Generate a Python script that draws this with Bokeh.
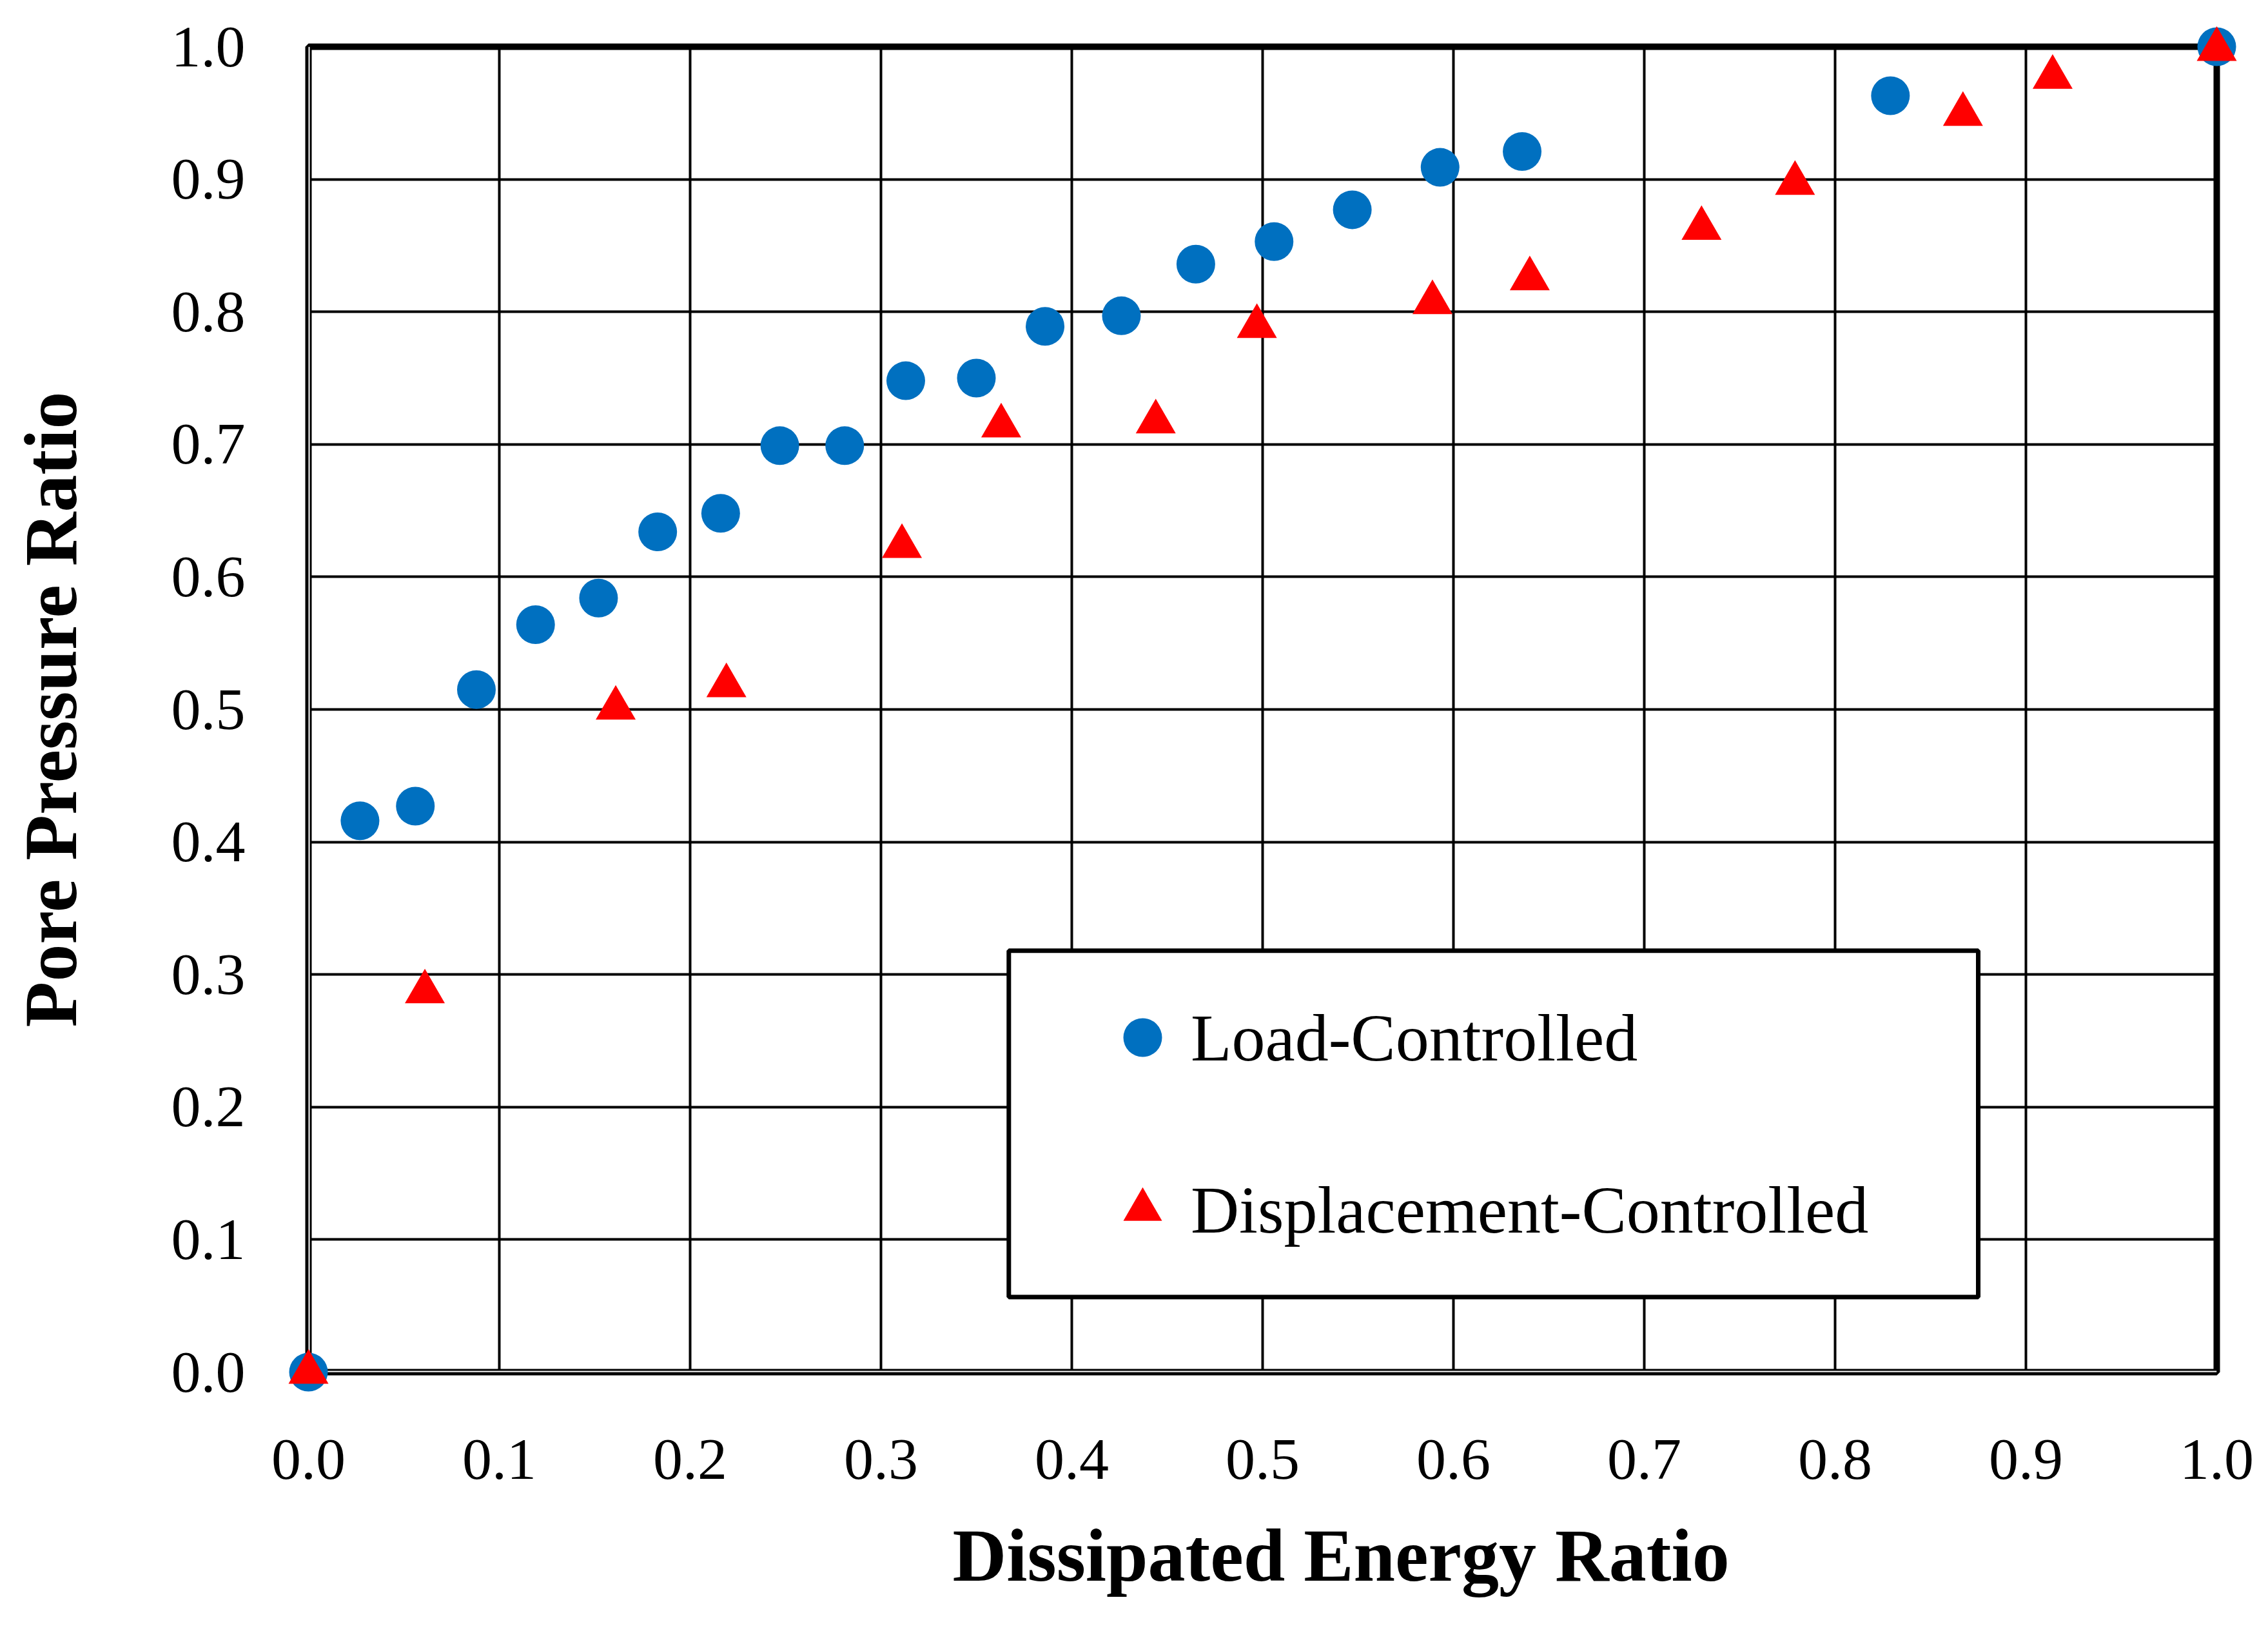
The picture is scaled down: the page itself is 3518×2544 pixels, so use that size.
from bokeh.plotting import figure
from bokeh.models import (Range1d, FixedTicker, Legend, LegendItem, BoxAnnotation,
                          Span, PrintfTickFormatter, Title)
from bokeh.embed import file_html
from bokeh.resources import INLINE

# ---- data ----
load_x = [0.0, 0.027, 0.056, 0.088, 0.119, 0.152, 0.183, 0.216, 0.247, 0.281, 0.313,
          0.350, 0.386, 0.426, 0.465, 0.506, 0.547, 0.593, 0.636, 0.829, 1.0]
load_y = [0.0, 0.416, 0.427, 0.515, 0.564, 0.584, 0.634, 0.648, 0.699, 0.699, 0.748,
          0.750, 0.789, 0.797, 0.836, 0.853, 0.877, 0.909, 0.921, 0.963, 1.0]

disp_x = [0.0, 0.061, 0.161, 0.219, 0.311, 0.363, 0.444, 0.497, 0.589, 0.640, 0.730,
          0.779, 0.867, 0.914, 1.0]
disp_y = [0.0, 0.287, 0.501, 0.518, 0.623, 0.714, 0.717, 0.789, 0.807, 0.825, 0.863,
          0.897, 0.949, 0.977, 0.998]

tick_values = [0.0, 0.1, 0.2, 0.3, 0.4, 0.5, 0.6, 0.7, 0.8, 0.9, 1.0]
tick_labels = ["0.0", "0.1", "0.2", "0.3", "0.4", "0.5", "0.6", "0.7", "0.8", "0.9", "1.0"]

series_names = ["Load-Controlled", "Displacement-Controlled"]
x_title = "Dissipated Energy Ratio"
y_title = "Pore Pressure Ratio"

BLUE = "#0070C0"
RED = "#FF0000"
FONT = "Liberation Serif"

p = figure(frame_width=2960, frame_height=2056,
           min_border_left=478, min_border_right=80,
           min_border_top=72, min_border_bottom=416,
           x_range=Range1d(0, 1), y_range=Range1d(0, 1),
           output_backend="svg", toolbar_location=None,
           background_fill_color="white", border_fill_color="white")

p.outline_line_color = "black"
p.outline_line_width = 10
p.outline_line_alpha = 1.0

overrides = {v: s for v, s in zip(tick_values, tick_labels)}
for ax in (p.xaxis[0], p.yaxis[0]):
    ax.ticker = FixedTicker(ticks=tick_values)
    ax.formatter = PrintfTickFormatter(format="%.1f")
    ax.major_label_overrides = overrides
    ax.major_tick_line_color = None
    ax.minor_tick_line_color = None
    ax.major_tick_out = 0
    ax.major_tick_in = 0
    ax.minor_tick_out = 0
    ax.minor_tick_in = 0
    ax.axis_line_color = None
    ax.major_label_text_font = FONT
    ax.major_label_text_font_size = "92px"
    ax.major_label_text_color = "black"

p.xaxis.major_label_standoff = 105
p.yaxis.major_label_standoff = 98

# y title as the axis label
p.yaxis.axis_label = y_title
p.yaxis.axis_label_text_font = FONT
p.yaxis.axis_label_text_font_size = "116px"
p.yaxis.axis_label_text_font_style = "bold"
p.yaxis.axis_label_text_color = "black"
p.yaxis.axis_label_standoff = 120

# x title as a side-panel title (it sits right of centre in the reference)
p.add_layout(Title(text=x_title, align="left", offset=999, standoff=105,
                   vertical_align="top",
                   text_font=FONT, text_font_size="116px", text_font_style="bold",
                   text_color="black"), "below")

p.grid.grid_line_color = "black"
p.grid.grid_line_width = 4
p.grid.grid_line_alpha = 1.0

# legend frame (drawn as a box over the grid)
box = BoxAnnotation(left=0.367, right=0.875, bottom=0.0567, top=0.318,
                    fill_color="white", fill_alpha=1.0,
                    line_color="black", line_width=7, line_alpha=1.0,
                    level="annotation")
p.add_layout(box)

# double-line look of the left and bottom axes
for dim in ("height", "width"):
    p.add_layout(Span(location=0, dimension=dim, line_color="white",
                      line_width=4, level="annotation"))

r1 = p.scatter(load_x, load_y, marker="circle", size=60,
               fill_color=BLUE, line_color=None, level="overlay")
r2 = p.scatter(disp_x, disp_y, marker="triangle", size=62,
               fill_color=RED, line_color=None, level="overlay")

legend = Legend(items=[LegendItem(label=series_names[0], renderers=[r1]),
                       LegendItem(label=series_names[1], renderers=[r2])],
                location=(1219, 177), orientation="vertical",
                glyph_width=150, glyph_height=150, label_standoff=0,
                spacing=117, padding=0, margin=0,
                border_line_alpha=0, background_fill_alpha=0,
                label_text_font=FONT, label_text_font_size="104px",
                label_text_color="black")
p.add_layout(legend, "center")

open("out.html", "w").write(file_html(p, INLINE, "plot"))
